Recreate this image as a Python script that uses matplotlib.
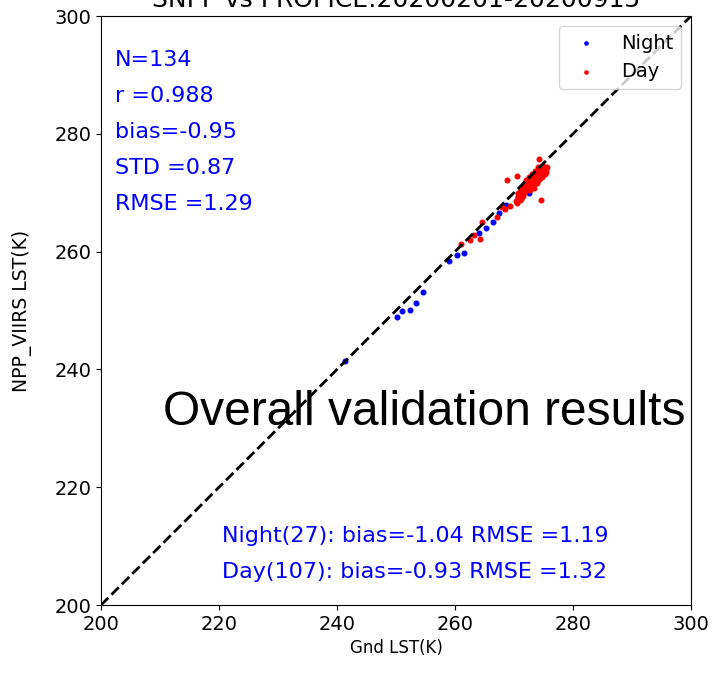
import matplotlib

matplotlib.use("Agg")
import matplotlib.pyplot as plt

# ---- data ----
night_x = [241.4, 250.1, 251.0, 252.3, 253.4, 254.5, 258.9, 260.4, 261.6, 264.1,
           265.3, 266.4, 267.4, 268.6, 272.6, 271.0, 271.6, 272.0, 272.4, 272.8,
           273.1, 273.5, 273.9, 274.2, 274.5, 270.7, 271.4]
night_y = [241.4, 248.9, 250.0, 250.1, 251.3, 253.1, 258.4, 259.4, 259.7, 263.1,
           264.0, 265.1, 266.5, 267.9, 270.0, 269.8, 270.3, 271.0, 271.4, 271.7,
           272.3, 272.6, 273.0, 273.3, 273.6, 269.2, 270.6]

day_x = [261.1, 262.6, 263.3, 264.3, 264.6, 267.1, 268.0, 268.5, 269.4, 268.8,
         270.5, 274.2, 274.5, 273.4, 270.4, 270.6, 270.8, 270.9, 271.0, 271.1,
         271.2, 271.3, 271.4, 271.5, 271.5, 271.6, 271.7, 271.8, 271.8, 271.9,
         272.0, 272.0, 272.1, 272.2, 272.2, 272.3, 272.4, 272.4, 272.5, 272.6,
         272.6, 272.7, 272.8, 272.8, 272.9, 273.0, 273.0, 273.1, 273.2, 273.2,
         273.3, 273.4, 273.4, 273.5, 273.6, 273.6, 273.7, 273.8, 273.8, 273.9,
         274.0, 274.0, 274.1, 274.2, 274.2, 274.3, 274.4, 274.4, 274.5, 274.6,
         274.6, 274.7, 274.8, 274.8, 274.9, 275.0, 275.0, 275.1, 275.2, 275.3,
         275.4, 275.5, 273.0, 273.5, 274.0, 274.5, 272.5, 270.5, 271.0, 271.2,
         271.9, 272.3, 272.9, 273.3, 273.7, 274.1, 274.3, 274.7, 275.1, 275.3,
         273.9, 273.1, 272.7, 270.7, 272.1, 274.9, 275.6]
day_y = [261.3, 261.9, 262.8, 262.2, 265.0, 265.8, 267.6, 267.2, 267.7, 272.2,
         272.9, 275.7, 268.8, 270.8, 268.6, 269.3, 268.9, 269.8, 269.4, 270.1,
         269.0, 270.4, 269.7, 270.8, 270.0, 269.5, 270.6, 271.2, 270.2, 270.9,
         271.5, 270.4, 271.0, 271.8, 270.6, 271.3, 270.9, 271.9, 271.5, 271.1,
         272.1, 271.6, 270.8, 272.3, 271.8, 271.2, 272.4, 272.0, 271.5, 272.7,
         272.2, 271.7, 272.9, 272.4, 271.9, 273.0, 272.5, 272.0, 273.2, 272.7,
         272.2, 273.4, 272.9, 272.4, 273.6, 273.1, 272.6, 273.8, 273.3, 272.8,
         274.0, 273.5, 273.0, 274.1, 273.6, 273.2, 274.2, 273.7, 273.4, 274.0,
         273.6, 274.1, 273.2, 273.7, 274.3, 274.4, 272.6, 268.3, 268.7, 270.8,
         271.6, 272.0, 272.6, 272.9, 273.3, 273.9, 272.3, 272.7, 274.3, 273.2,
         271.6, 271.0, 270.5, 270.0, 272.2, 274.5, 274.4]

stats_lines = ["N=134", "r =0.988", "bias=-0.95", "STD =0.87", "RMSE =1.29"]
group_lines = ["Night(27): bias=-1.04 RMSE =1.19",
               "Day(107): bias=-0.93 RMSE =1.32"]
ticks = [200, 220, 240, 260, 280, 300]

fig = plt.figure(figsize=(7.2, 6.73), dpi=100)
ax = fig.add_axes([0.1403, 0.101, 0.8194, 0.8752])

ax.scatter(night_x, night_y, s=11, color="blue", label="Night")
ax.scatter(day_x, day_y, s=11, color="red", label="Day")
ax.plot([200, 300], [200, 300], "k--", lw=2)

ax.set_xlim(200, 300)
ax.set_ylim(200, 300)
ax.set_xticks(ticks)
ax.set_yticks(ticks)
ax.tick_params(labelsize=14)
ax.set_xlabel("Gnd LST(K)", fontsize=12)
ax.set_ylabel("NPP_VIIRS LST(K)", fontsize=13.5, labelpad=16)
ax.legend(loc="upper right", fontsize=14, markerscale=0.7)

for i, line in enumerate(stats_lines):
    ax.text(202.4, 292.5 - i * 6.1, line, color="blue", fontsize=16, va="center")
for i, line in enumerate(group_lines):
    ax.text(220.5, 211.7 - i * 6.1, line, color="blue", fontsize=16, va="center")

ax.text(210.5, 230.6, "Overall validation results", fontsize=34.5,
        family="Liberation Sans", va="baseline")

# title sits mostly above the canvas, as in the reference
fig.text(0.55, 1 - 7 / 673, "SNPP vs PROFICE:20200201-20200915", fontsize=18,
         ha="center", va="baseline")

fig.savefig("out.png", dpi=100)
